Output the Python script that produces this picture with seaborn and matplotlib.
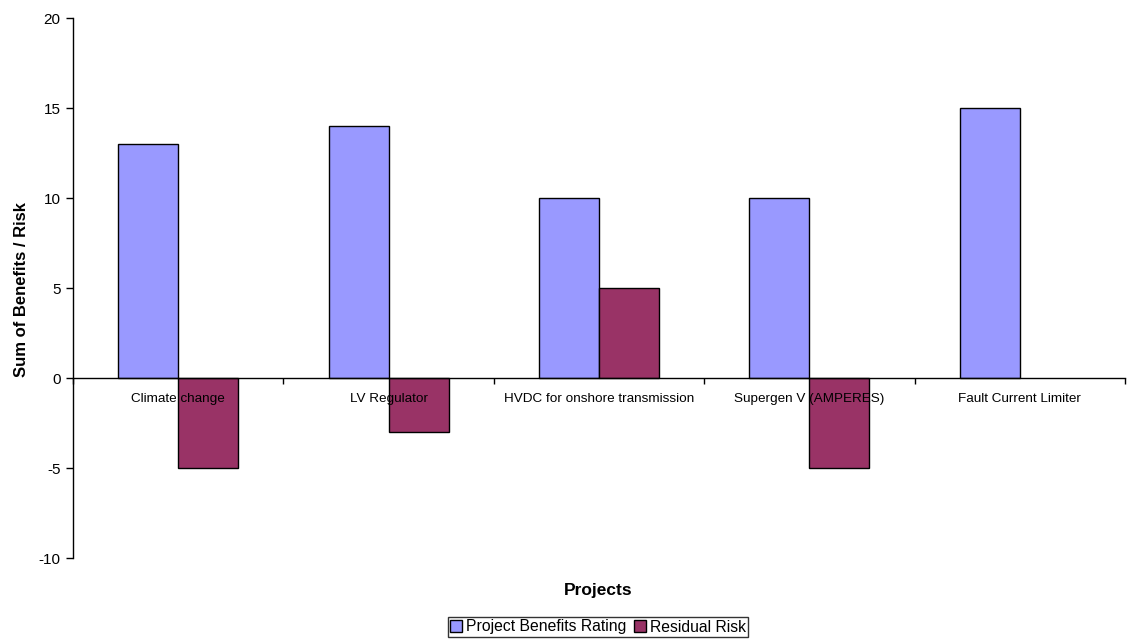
import matplotlib
matplotlib.use("Agg")
import matplotlib.pyplot as plt
import numpy as np
import pandas as pd
import seaborn as sns
from matplotlib.ticker import FixedLocator, NullFormatter

projects = ["Climate change", "LV Regulator", "HVDC for onshore transmission",
            "Supergen V (AMPERES)", "Fault Current Limiter"]
benefits = [13, 14, 10, 10, 15]
residual_risk = [-5, -3, 5, -5, 0]
series_names = ["Project Benefits Rating", "Residual Risk"]
series_colors = ["#9999FF", "#993366"]
y_ticks = [-10, -5, 0, 5, 10, 15, 20]

df = pd.DataFrame({
    "Project": projects * 2,
    "Series": [series_names[0]] * len(projects) + [series_names[1]] * len(projects),
    "Value": benefits + residual_risk,
})

sns.set_style("white")
plt.rcParams["font.family"] = ["Liberation Sans", "DejaVu Sans"]
plt.rcParams["text.color"] = "black"
plt.rcParams["xtick.color"] = "black"
plt.rcParams["ytick.color"] = "black"
plt.rcParams["axes.labelcolor"] = "black"

fig = plt.figure(figsize=(11.28, 6.41), dpi=100)
ax = fig.add_axes([73 / 1128, (641 - 558) / 641, (1125 - 73) / 1128, 540 / 641])

sns.barplot(data=df, x="Project", y="Value", hue="Series", order=projects,
            hue_order=series_names, palette=series_colors, width=0.57,
            edgecolor="black", linewidth=1, saturation=1, ax=ax,
            legend=False, errorbar=None)

# a zero value leaves no visible bar
for p in list(ax.patches):
    if p.get_height() == 0:
        p.remove()

ax.set_ylim(-10, 20)
ax.set_xlim(-0.5, len(projects) - 0.5)
ax.set_yticks(y_ticks)
ax.set_yticklabels([str(v) for v in y_ticks], fontsize=11, color="black")
ax.tick_params(axis="y", direction="out", length=5, width=1, color="black", pad=4, left=True)

for s in ["top", "right"]:
    ax.spines[s].set_visible(False)
ax.spines["left"].set_color("black")
ax.spines["left"].set_linewidth(1)
ax.spines["bottom"].set_position(("data", 0))
ax.spines["bottom"].set_color("black")
ax.spines["bottom"].set_linewidth(1)

# category boundary ticks on the zero line, labels centred on each category
ax.xaxis.set_major_locator(FixedLocator(np.arange(-0.5, len(projects), 1.0)))
ax.xaxis.set_major_formatter(NullFormatter())
ax.xaxis.set_minor_locator(FixedLocator(np.arange(len(projects))))
ax.set_xticklabels(projects, minor=True, fontsize=9.7, color="black")
ax.tick_params(axis="x", which="major", direction="out", length=4, width=1, color="black", bottom=True)
ax.tick_params(axis="x", which="minor", length=0, pad=10.5)
ax.xaxis.set_zorder(5)

ax.set_xlabel("")
ax.set_ylabel("")
fig.text(598 / 1128, 1 - 590 / 641, "Projects", ha="center", va="center",
         fontsize=12.5, fontweight="bold", color="black")
fig.text(22 / 1128, 1 - 290 / 641, "Sum of Benefits / Risk", ha="center", va="center",
         rotation=90, fontsize=12, fontweight="bold", color="black")

handles = [plt.Rectangle((0, 0), 1, 1, facecolor=c, edgecolor="black", linewidth=1)
           for c in series_colors]
leg = fig.legend(handles, series_names, loc="center", ncol=2,
                 bbox_to_anchor=(598 / 1128, 1 - 627 / 641), fontsize=11.3,
                 frameon=True, fancybox=False, edgecolor="black",
                 handlelength=0.75, handleheight=0.75, handletextpad=0.25,
                 columnspacing=0.5, borderpad=0.15, borderaxespad=0)
leg.get_frame().set_linewidth(1)
for t in leg.get_texts():
    t.set_color("black")

fig.savefig("out.png", dpi=100, facecolor="white")
